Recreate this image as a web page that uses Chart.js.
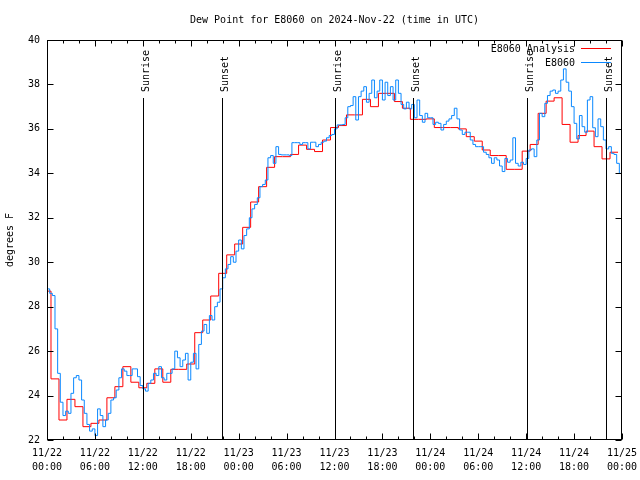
<!DOCTYPE html>
<html>
<head>
<meta charset="utf-8">
<script src="https://cdn.jsdelivr.net/npm/chart.js@4/dist/chart.umd.min.js"></script>
<style>
  html, body { margin: 0; padding: 0; background: #fff; }
  canvas { display: block; }
</style>
</head>
<body>
<canvas id="grafico" width="640" height="480"></canvas>
<script>
const titulo = 'Dew Point for E8060 on 2024-Nov-22 (time in UTC)'
const etiquetaY = 'degrees F'
const fuente = "'DejaVu Sans Mono', monospace"

// etiquetas del eje x (cada 6 horas)
const fechasX = ['11/22', '11/22', '11/22', '11/22', '11/23', '11/23', '11/23', '11/23', '11/24', '11/24', '11/24', '11/24', '11/25']
const horasX = ['00:00', '06:00', '12:00', '18:00', '00:00', '06:00', '12:00', '18:00', '00:00', '06:00', '12:00', '18:00', '00:00']

// salida / puesta del sol (horas desde 11/22 00:00)
const eventos = ['Sunrise', 'Sunset', 'Sunrise', 'Sunset', 'Sunrise', 'Sunset']
const horasEventos = [12.07, 21.95, 36.06, 45.87, 60.14, 69.96]

// analisis horario (F)
const valoresAnalisis = [
  28.7, 24.75, 22.9, 23.83, 23.5, 22.6, 22.75, 22.9, 23.9, 24.4, 25.3, 24.6,
  24.35, 24.55, 25.2, 24.6, 25.18, 25.18, 25.42, 26.83, 27.4, 28.48, 29.5, 30.33,
  30.82, 31.57, 32.71, 33.4, 34.27, 34.75, 34.75, 34.85, 35.27, 35.08, 34.98, 35.5,
  36.06, 36.15, 36.63, 36.63, 37.33, 37.0, 37.6, 37.6, 37.23, 36.93, 36.43, 36.43,
  36.45, 36.06, 36.06, 36.06, 36.0, 35.65, 35.45, 35.05, 34.8, 34.8, 34.18, 34.18,
  35.0, 35.3, 36.7, 37.25, 37.4, 36.2, 35.4, 35.7, 35.9, 35.2, 34.65, 34.95
]

// observaciones cada 20 minutos (F)
const valoresObs = [
  28.8, 28.6, 28.5, 27.0, 25.0, 23.7, 23.1, 23.3, 23.2, 24.1, 24.8, 24.9,
  24.7, 23.8, 23.2, 22.7, 22.4, 22.5, 22.2, 23.4, 23.1, 22.6, 22.9, 23.2,
  23.8, 23.9, 24.25, 24.8, 25.2, 25.1, 24.9, 24.9, 25.2, 25.2, 24.85, 24.45,
  24.3, 24.2, 24.55, 24.7, 25.0, 24.9, 25.3, 24.8, 24.7, 25.0, 25.0, 25.2,
  26.0, 25.7, 25.3, 25.6, 25.9, 24.7, 25.5, 25.9, 25.2, 26.3, 26.9, 27.2,
  26.8, 27.6, 27.4, 28.0, 28.2, 28.8, 29.3, 29.7, 29.9, 30.25, 30.0, 30.5,
  31.0, 30.6, 31.2, 31.5, 32.0, 32.4, 32.6, 32.9, 33.4, 33.5, 33.7, 34.7,
  34.8, 34.45, 35.2, 34.85, 34.83, 34.83, 34.83, 34.8, 35.38, 35.38, 35.38, 35.3,
  35.38, 35.38, 35.1, 35.4, 35.4, 35.2, 35.3, 35.4, 35.45, 35.6, 35.7, 35.75,
  36.0, 36.18, 36.18, 36.2, 36.5, 37.0, 37.05, 37.45, 36.4, 37.45, 37.7, 37.9,
  37.2, 37.6, 38.2, 37.4, 37.7, 38.2, 37.3, 38.1, 37.5, 37.9, 37.3, 38.2,
  37.6, 37.1, 36.9, 37.2, 36.9, 37.1, 36.5, 37.3, 36.6, 36.3, 36.7, 36.5,
  36.5, 36.2, 36.3, 36.25, 35.95, 36.2, 36.35, 36.45, 36.6, 36.93, 36.45, 35.95,
  35.75, 35.85, 35.85, 35.5, 35.3, 35.2, 35.2, 35.2, 34.95, 34.85, 34.7, 34.45,
  34.7, 34.6, 34.33, 34.08, 34.67, 34.5, 34.6, 35.6, 34.45, 34.33, 34.5, 34.4,
  34.67, 35.05, 35.1, 34.75, 35.5, 36.7, 36.55, 37.15, 37.5, 37.7, 37.75, 37.6,
  37.7, 38.2, 38.7, 38.1, 37.7, 37.0, 36.25, 35.55, 36.6, 36.1, 35.85, 37.3,
  37.45, 36.05, 35.65, 36.45, 36.1, 35.5, 35.1, 35.2, 34.9, 34.85, 34.45, 34.0,
  34.0
]

// cada valor del analisis vale de h-0.5 a h+0.5
const datosAnalisis = valoresAnalisis.map((v, i) => ({ x: i === 0 ? 0 : i - 0.5, y: v }))
datosAnalisis.push({ x: valoresAnalisis.length - 0.5, y: valoresAnalisis[valoresAnalisis.length - 1] })
const datosObs = valoresObs.map((v, i) => ({ x: i / 3, y: v }))

const marco = {
  id: 'marco',
  afterDatasetsDraw(chart) {
    const { ctx, chartArea: a, scales } = chart
    const x = scales.x, y = scales.y
    const L = Math.round(a.left) + 0.5, R = Math.round(a.right) - 0.5
    const T = Math.round(a.top) + 0.5, B = Math.round(a.bottom) - 0.5
    ctx.save()
    ctx.strokeStyle = '#000'
    ctx.lineWidth = 1

    // ticks hacia dentro en los cuatro lados
    ctx.beginPath()
    for (let h = 0; h <= 72; h += 2) {
      const px = Math.round(x.getPixelForValue(h)) + 0.5
      const len = h % 6 === 0 ? 6 : 3
      ctx.moveTo(px, B); ctx.lineTo(px, B - len)
      ctx.moveTo(px, T); ctx.lineTo(px, T + len)
    }
    for (let v = 22; v <= 40; v += 2) {
      const py = Math.round(y.getPixelForValue(v)) + 0.5
      ctx.moveTo(L, py); ctx.lineTo(L + 6, py)
      ctx.moveTo(R, py); ctx.lineTo(R - 6, py)
    }
    ctx.stroke()

    // salida y puesta del sol
    ctx.fillStyle = '#000'
    ctx.font = '10px ' + fuente
    eventos.forEach((nombre, i) => {
      const px = Math.round(x.getPixelForValue(horasEventos[i])) + 0.5
      ctx.beginPath()
      ctx.moveTo(px, a.top + 58)
      ctx.lineTo(px, B)
      ctx.stroke()
      ctx.save()
      ctx.translate(px + 3, a.top + 52)
      ctx.rotate(-Math.PI / 2)
      ctx.textAlign = 'left'
      ctx.textBaseline = 'middle'
      ctx.fillText(nombre, 0, 0)
      ctx.restore()
    })

    // marco
    ctx.strokeRect(L, T, R - L, B - T)

    // leyenda
    ctx.textAlign = 'right'
    ctx.textBaseline = 'middle'
    chart.data.datasets.forEach((ds, i) => {
      const ly = a.top + 9 + i * 14
      ctx.fillStyle = '#000'
      ctx.fillText(ds.label, a.right - 47, ly)
      ctx.strokeStyle = ds.borderColor
      ctx.beginPath()
      ctx.moveTo(a.right - 41, Math.round(ly) - 0.5)
      ctx.lineTo(a.right - 11, Math.round(ly) - 0.5)
      ctx.stroke()
    })

    // titulo y etiqueta del eje y
    ctx.fillStyle = '#000'
    ctx.textAlign = 'center'
    ctx.fillText(titulo, (a.left + a.right) / 2, 20)
    ctx.save()
    ctx.translate(10, (a.top + a.bottom) / 2)
    ctx.rotate(-Math.PI / 2)
    ctx.fillText(etiquetaY, 0, 0)
    ctx.restore()
    ctx.restore()
  }
}

new Chart(document.getElementById('grafico'), {
  type: 'line',
  data: {
    datasets: [
      { label: 'E8060 Analysis', data: datosAnalisis, borderColor: '#ff0000', borderWidth: 1, stepped: true, pointRadius: 0, order: 1 },
      { label: 'E8060', data: datosObs, borderColor: '#0a88ff', borderWidth: 1, stepped: true, pointRadius: 0, order: 0 }
    ]
  },
  options: {
    responsive: false,
    animation: false,
    devicePixelRatio: 1,
    layout: { padding: { top: 40, right: 18, left: 0, bottom: 0 } },
    plugins: {
      legend: { display: false },
      title: { display: false },
      tooltip: { enabled: false }
    },
    scales: {
      x: {
        type: 'linear', min: 0, max: 72,
        grid: { display: false, drawTicks: false },
        border: { display: false },
        ticks: {
          stepSize: 6, autoSkip: false, maxRotation: 0, padding: 6, color: '#000',
          font: { family: fuente, size: 10, lineHeight: 1.4 },
          callback: v => [fechasX[v / 6], horasX[v / 6]]
        },
        afterFit: s => { s.height = 40; s.paddingLeft = 0; s.paddingRight = 0 }
      },
      y: {
        min: 22, max: 40,
        grid: { display: false, drawTicks: false },
        border: { display: false },
        ticks: { stepSize: 2, padding: 7, color: '#000', font: { family: fuente, size: 10 } },
        afterFit: s => { s.width = 47; s.paddingTop = 0; s.paddingBottom = 0 }
      }
    }
  },
  plugins: [marco]
})
</script>
</body>
</html>
